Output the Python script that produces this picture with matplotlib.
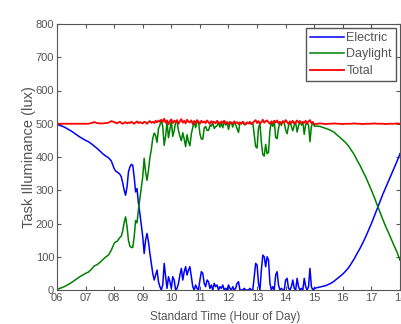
import numpy as np
from matplotlib import pyplot as plt

# horas del dia (mas fino en el tramo con nubes)
horas = np.concatenate([
    np.linspace(6.0, 8.0, 21),
    np.linspace(8.05, 9.6, 32),
    np.linspace(9.65, 15.0, 108),
    np.linspace(15.1, 18.0, 30),
])

# iluminancia electrica (lux)
electrica = [
    # 06:00 - 08:00
    498, 495, 492, 488, 483, 478, 472, 466, 460, 455,
    450, 446, 440, 433, 426, 418, 410, 403, 398, 388, 365,
    # 08:05 - 09:36
    358, 355, 352, 348, 340, 322, 300, 285, 310, 355,
    370, 378, 375, 340, 295, 305, 260, 230, 195, 160,
    110, 150, 170, 145, 110, 80, 50, 30, 45, 60, 25, 10,
    # 09:39 - 15:00
    0, 15, 80, 40, 5, 40, 25, 5, 40, 30,
    0, 5, 20, 45, 65, 30, 55, 70, 45, 60,
    70, 40, 10, 0, 15, 5, 0, 30, 55, 50,
    20, 10, 30, 25, 5, 15, 0, 20, 10, 15,
    0, 10, 5, 15, 0, 5, 0, 15, 5, 0,
    10, 0, 5, 20, 25, 0, 0, 0, 5, 0,
    0, 0, 5, 0, 0, 40, 80, 75, 20, 0,
    60, 105, 100, 70, 100, 90, 20, 0, 10, 0,
    45, 55, 15, 0, 5, 0, 0, 30, 35, 5,
    0, 10, 30, 5, 0, 35, 10, 0, 5, 0,
    35, 10, 0, 10, 65, 10, 0, 5,
    # 15:06 - 18:00
    7, 9, 11, 13, 17, 21, 27, 34, 41, 48,
    57, 67, 80, 94, 110, 125, 142, 160, 180, 200,
    222, 244, 266, 288, 308, 328, 348, 368, 388, 410,
]

# iluminancia total medida en la tarea (lux)
total = [
    500, 500, 500, 500, 500, 500, 500, 500, 500, 500,
    500, 500, 502, 505, 502, 501, 501, 502, 503, 508, 505,
    503, 501, 504, 506, 502, 500, 503, 505, 501, 504,
    502, 506, 503, 500, 504, 507, 502, 505, 503, 501,
    506, 504, 500, 505, 508, 503, 506, 502, 509, 504, 510, 506,
    512, 506, 515, 503, 510, 498, 508, 513, 502, 509,
    505, 511, 500, 507, 514, 503, 509, 501, 512, 506,
    504, 510, 499, 508, 503, 511, 506, 500, 509, 504,
    507, 502, 510, 505, 499, 508, 503, 506, 501, 509,
    504, 500, 507, 503, 509, 501, 505, 498, 506, 503,
    500, 507, 502, 505, 499, 504, 500, 506, 502, 498,
    504, 501, 506, 499, 503, 507, 511, 502, 508, 500,
    505, 512, 503, 508, 510, 504, 500, 507, 502, 509,
    504, 510, 501, 506, 500, 508, 503, 511, 505, 499,
    507, 502, 509, 500, 505, 510, 503, 508, 501, 506,
    503, 509, 500, 507, 511, 502, 505, 498,
    500, 501, 500, 499, 500, 500, 501, 500, 500, 499,
    500, 500, 500, 501, 500, 500, 499, 500, 500, 500,
    501, 500, 500, 500, 499, 500, 500, 500, 501, 500,
]

electrica = np.array(electrica)
total = np.array(total)
# la luz natural es lo que falta para llegar al total
natural = total - electrica

etiquetas_x = ["%02d" % h for h in range(6, 19)]

gris = "#555555"
plt.rcParams["font.family"] = ["Liberation Sans", "DejaVu Sans"]

fig = plt.figure(figsize=(4.02, 3.24), dpi=100)
ax = fig.add_axes([57 / 402, 34 / 324, 343 / 402, 266 / 324])

ax.plot(horas, electrica, color="#0000ff", lw=1.1, label="Electric")
ax.plot(horas, natural, color="#008000", lw=1.1, label="Daylight")
ax.plot(horas, total, color="#ff0000", lw=1.3, label="Total")

ax.set_xlim(6, 18)
ax.set_ylim(0, 800)
ax.set_xticks(range(6, 19))
ax.set_xticklabels(etiquetas_x)
ax.set_yticks(range(0, 801, 100))

ax.tick_params(direction="in", length=3, top=True, right=True,
               labelsize=8, colors=gris, pad=2)
for lado in ax.spines.values():
    lado.set_color(gris)
    lado.set_linewidth(0.8)

ax.set_xlabel("Standard Time (Hour of Day)", fontsize=8.5, color=gris)
ax.xaxis.set_label_coords(0.49, -0.08)
ax.set_ylabel("Task Illuminance (lux)", fontsize=10.5, color=gris)
ax.yaxis.set_label_coords(-0.06, 0.5)

ley = ax.legend(loc="upper right", fontsize=9, handlelength=2.7,
                borderaxespad=0.3, fancybox=False, framealpha=1,
                edgecolor=gris, borderpad=0.35, labelspacing=0.35,
                handletextpad=0.2)
for t in ley.get_texts():
    t.set_color(gris)

fig.savefig("out.png", dpi=100)
